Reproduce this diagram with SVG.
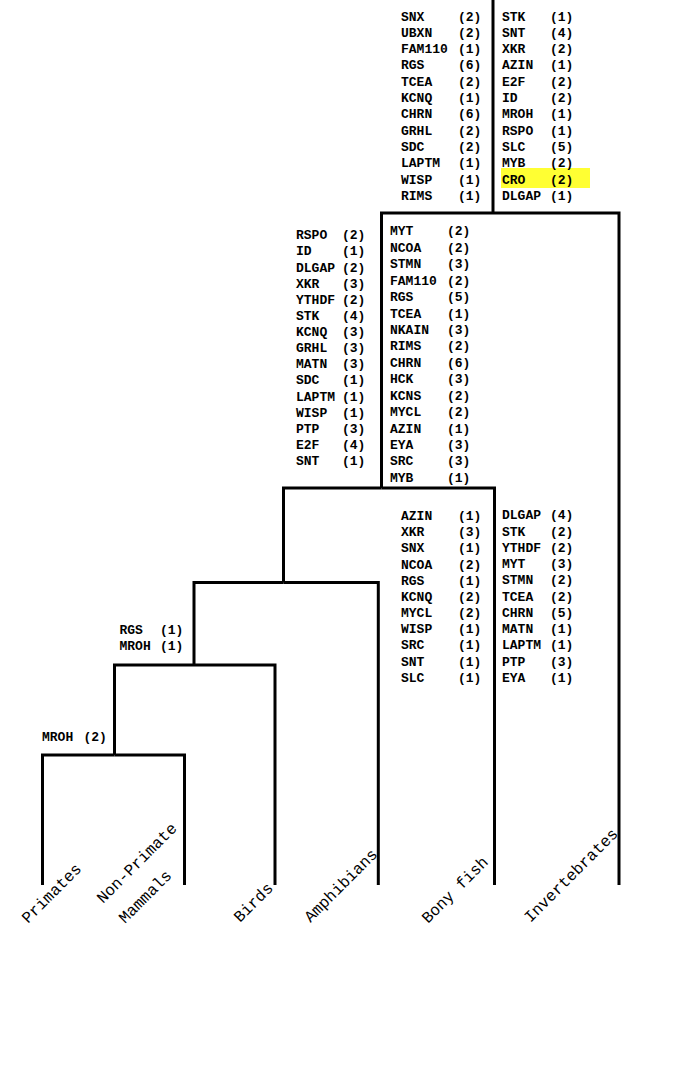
<svg xmlns="http://www.w3.org/2000/svg" width="689" height="1084" viewBox="0 0 689 1084">
<style>
.bg{fill:#ffffff}
.edge{fill:none;stroke:#000;stroke-width:3;stroke-linejoin:miter;stroke-linecap:butt}
.g{font-family:"Liberation Mono","Courier New",monospace;font-weight:bold;font-size:13px;fill:#000}
.lab{font-family:"Liberation Mono","Courier New",monospace;font-size:16px;fill:#000}
.hl{fill:#ffff33}
</style>
<rect class="bg" x="0" y="0" width="689" height="1084"/>

<g id="connectors">
<path class="edge" d="M493 0 V213"/>
<path class="edge" d="M493 213 H381.5 V488"/>
<path class="edge" d="M493 213 H619 V885"/>
<path class="edge" d="M381.5 488 H283.5 V582.5"/>
<path class="edge" d="M381.5 488 H494.5 V885"/>
<path class="edge" d="M283.5 582.5 H194 V665"/>
<path class="edge" d="M283.5 582.5 H378.3 V885"/>
<path class="edge" d="M194 665 H114.5 V755"/>
<path class="edge" d="M194 665 H275 V885"/>
<path class="edge" d="M114.5 755 H42.5 V885"/>
<path class="edge" d="M114.5 755 H184.5 V885"/>
</g>

<g id="root-annotations">
<g id="root-left-list" class="g">
<text x="401" y="20.5">SNX</text><text x="458" y="20.5">(2)</text>
<text x="401" y="36.8">UBXN</text><text x="458" y="36.8">(2)</text>
<text x="401" y="53.1">FAM110</text><text x="458" y="53.1">(1)</text>
<text x="401" y="69.4">RGS</text><text x="458" y="69.4">(6)</text>
<text x="401" y="85.7">TCEA</text><text x="458" y="85.7">(2)</text>
<text x="401" y="102">KCNQ</text><text x="458" y="102">(1)</text>
<text x="401" y="118.3">CHRN</text><text x="458" y="118.3">(6)</text>
<text x="401" y="134.6">GRHL</text><text x="458" y="134.6">(2)</text>
<text x="401" y="150.9">SDC</text><text x="458" y="150.9">(2)</text>
<text x="401" y="167.2">LAPTM</text><text x="458" y="167.2">(1)</text>
<text x="401" y="183.5">WISP</text><text x="458" y="183.5">(1)</text>
<text x="401" y="199.8">RIMS</text><text x="458" y="199.8">(1)</text>
</g>
<g id="root-right-list" class="g">
<rect class="hl" x="501" y="168" width="89" height="20"/>
<text x="502" y="20.5">STK</text><text x="550" y="20.5">(1)</text>
<text x="502" y="36.8">SNT</text><text x="550" y="36.8">(4)</text>
<text x="502" y="53.1">XKR</text><text x="550" y="53.1">(2)</text>
<text x="502" y="69.4">AZIN</text><text x="550" y="69.4">(1)</text>
<text x="502" y="85.7">E2F</text><text x="550" y="85.7">(2)</text>
<text x="502" y="102">ID</text><text x="550" y="102">(2)</text>
<text x="502" y="118.3">MROH</text><text x="550" y="118.3">(1)</text>
<text x="502" y="134.6">RSPO</text><text x="550" y="134.6">(1)</text>
<text x="502" y="150.9">SLC</text><text x="550" y="150.9">(5)</text>
<text x="502" y="167.2">MYB</text><text x="550" y="167.2">(2)</text>
<text x="502" y="183.5">CRO</text><text x="550" y="183.5">(2)</text>
<text x="502" y="199.8">DLGAP</text><text x="550" y="199.8">(1)</text>
</g>
</g>

<g id="node-vertebrates">
<g id="vertebrates-left-list" class="g">
<text x="296" y="239.3">RSPO</text><text x="342" y="239.3">(2)</text>
<text x="296" y="255.4">ID</text><text x="342" y="255.4">(1)</text>
<text x="296" y="271.5">DLGAP</text><text x="342" y="271.5">(2)</text>
<text x="296" y="287.7">XKR</text><text x="342" y="287.7">(3)</text>
<text x="296" y="303.8">YTHDF</text><text x="342" y="303.8">(2)</text>
<text x="296" y="319.9">STK</text><text x="342" y="319.9">(4)</text>
<text x="296" y="336">KCNQ</text><text x="342" y="336">(3)</text>
<text x="296" y="352.1">GRHL</text><text x="342" y="352.1">(3)</text>
<text x="296" y="368.3">MATN</text><text x="342" y="368.3">(3)</text>
<text x="296" y="384.4">SDC</text><text x="342" y="384.4">(1)</text>
<text x="296" y="400.5">LAPTM</text><text x="342" y="400.5">(1)</text>
<text x="296" y="416.6">WISP</text><text x="342" y="416.6">(1)</text>
<text x="296" y="432.7">PTP</text><text x="342" y="432.7">(3)</text>
<text x="296" y="448.9">E2F</text><text x="342" y="448.9">(4)</text>
<text x="296" y="465">SNT</text><text x="342" y="465">(1)</text>
</g>
<g id="vertebrates-right-list" class="g">
<text x="390" y="235.3">MYT</text><text x="447" y="235.3">(2)</text>
<text x="390" y="251.7">NCOA</text><text x="447" y="251.7">(2)</text>
<text x="390" y="268.2">STMN</text><text x="447" y="268.2">(3)</text>
<text x="390" y="284.6">FAM110</text><text x="447" y="284.6">(2)</text>
<text x="390" y="301">RGS</text><text x="447" y="301">(5)</text>
<text x="390" y="317.5">TCEA</text><text x="447" y="317.5">(1)</text>
<text x="390" y="333.9">NKAIN</text><text x="447" y="333.9">(3)</text>
<text x="390" y="350.3">RIMS</text><text x="447" y="350.3">(2)</text>
<text x="390" y="366.7">CHRN</text><text x="447" y="366.7">(6)</text>
<text x="390" y="383.2">HCK</text><text x="447" y="383.2">(3)</text>
<text x="390" y="399.6">KCNS</text><text x="447" y="399.6">(2)</text>
<text x="390" y="416">MYCL</text><text x="447" y="416">(2)</text>
<text x="390" y="432.5">AZIN</text><text x="447" y="432.5">(1)</text>
<text x="390" y="448.9">EYA</text><text x="447" y="448.9">(3)</text>
<text x="390" y="465.3">SRC</text><text x="447" y="465.3">(3)</text>
<text x="390" y="481.8">MYB</text><text x="447" y="481.8">(1)</text>
</g>
</g>

<g id="node-fish-split">
<g id="bonyfish-list" class="g">
<text x="401" y="520">AZIN</text><text x="458" y="520">(1)</text>
<text x="401" y="536.2">XKR</text><text x="458" y="536.2">(3)</text>
<text x="401" y="552.3">SNX</text><text x="458" y="552.3">(1)</text>
<text x="401" y="568.5">NCOA</text><text x="458" y="568.5">(2)</text>
<text x="401" y="584.7">RGS</text><text x="458" y="584.7">(1)</text>
<text x="401" y="600.9">KCNQ</text><text x="458" y="600.9">(2)</text>
<text x="401" y="617">MYCL</text><text x="458" y="617">(2)</text>
<text x="401" y="633.2">WISP</text><text x="458" y="633.2">(1)</text>
<text x="401" y="649.4">SRC</text><text x="458" y="649.4">(1)</text>
<text x="401" y="665.5">SNT</text><text x="458" y="665.5">(1)</text>
<text x="401" y="681.7">SLC</text><text x="458" y="681.7">(1)</text>
</g>
<g id="invertebrates-list" class="g">
<text x="502" y="519.3">DLGAP</text><text x="550" y="519.3">(4)</text>
<text x="502" y="535.5">STK</text><text x="550" y="535.5">(2)</text>
<text x="502" y="551.8">YTHDF</text><text x="550" y="551.8">(2)</text>
<text x="502" y="568">MYT</text><text x="550" y="568">(3)</text>
<text x="502" y="584.3">STMN</text><text x="550" y="584.3">(2)</text>
<text x="502" y="600.5">TCEA</text><text x="550" y="600.5">(2)</text>
<text x="502" y="616.7">CHRN</text><text x="550" y="616.7">(5)</text>
<text x="502" y="633">MATN</text><text x="550" y="633">(1)</text>
<text x="502" y="649.2">LAPTM</text><text x="550" y="649.2">(1)</text>
<text x="502" y="665.5">PTP</text><text x="550" y="665.5">(3)</text>
<text x="502" y="681.7">EYA</text><text x="550" y="681.7">(1)</text>
</g>
</g>

<g id="node-amniotes" class="g">
<text x="119.5" y="634.3">RGS</text><text x="160" y="634.3">(1)</text>
<text x="119.5" y="650">MROH</text><text x="160" y="650">(1)</text>
</g>

<g id="node-mammals" class="g">
<text x="42" y="741">MROH</text><text x="83.5" y="741">(2)</text>
</g>

<g id="leaf-primates"><text class="lab" transform="translate(28,924) rotate(-45)">Primates</text></g>
<g id="leaf-nonprimate-mammals">
<text class="lab" transform="translate(103,904) rotate(-45)">Non-Primate</text>
<text class="lab" transform="translate(125,924) rotate(-45)">Mammals</text>
</g>
<g id="leaf-birds"><text class="lab" transform="translate(240,923) rotate(-45)">Birds</text></g>
<g id="leaf-amphibians"><text class="lab" transform="translate(310.5,923) rotate(-45)">Amphibians</text></g>
<g id="leaf-bony-fish"><text class="lab" transform="translate(428,924) rotate(-45)">Bony fish</text></g>
<g id="leaf-invertebrates"><text class="lab" transform="translate(530.5,923) rotate(-45)">Invertebrates</text></g>
</svg>
